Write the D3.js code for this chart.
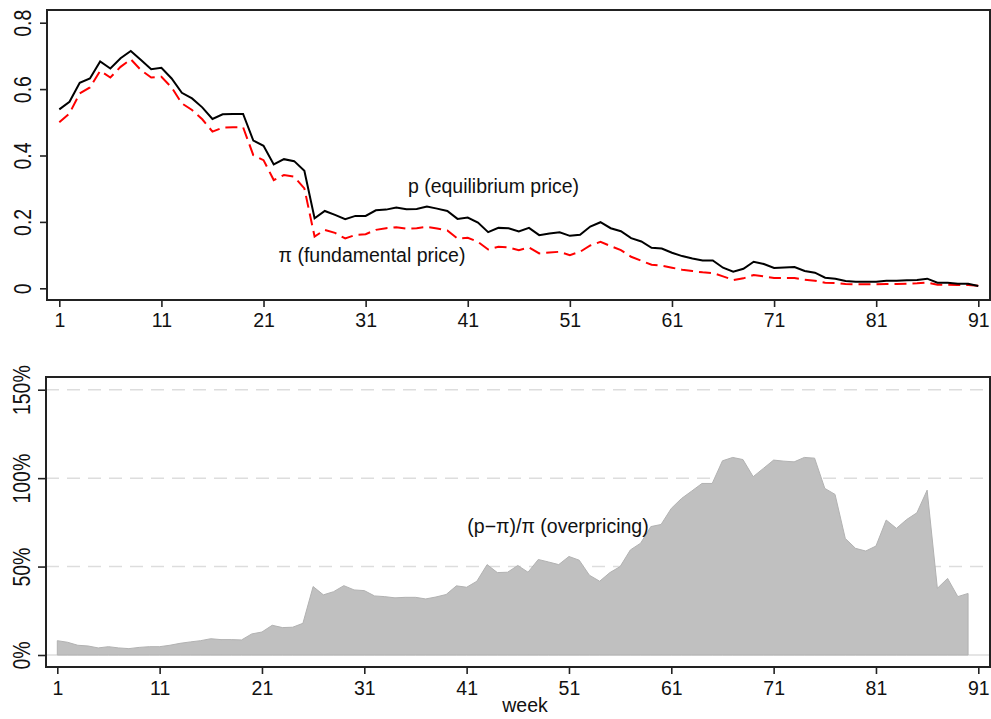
<!DOCTYPE html>
<meta charset="utf-8">
<html>
<head>
<style>
  body { margin: 0; background: #fff; }
  svg { display: block; }
  text { font-family: "Liberation Sans", Arial, Helvetica, sans-serif; fill: #111; }
  .tick line { stroke: #222; stroke-width: 1.6; }
  .tick text { font-size: 19.5px; }
</style>
</head>
<body>
<script src="https://cdn.jsdelivr.net/npm/d3@7"></script>
<script>
// week index
var weeks = d3.range(1, 92);
var weekTicks = [1, 11, 21, 31, 41, 51, 61, 71, 81, 91];

// p (equilibrium price), black line
var priceP = [0.539,0.562,0.619,0.632,0.683,0.662,0.693,0.715,0.688,0.660,
  0.664,0.632,0.589,0.572,0.545,0.510,0.524,0.525,0.525,0.445,
  0.429,0.373,0.389,0.383,0.354,0.211,0.233,0.221,0.208,0.218,
  0.218,0.235,0.237,0.243,0.238,0.239,0.246,0.240,0.233,0.209,
  0.213,0.198,0.169,0.182,0.181,0.171,0.182,0.160,0.165,0.169,
  0.158,0.161,0.186,0.199,0.181,0.172,0.151,0.141,0.122,0.120,
  0.107,0.097,0.090,0.084,0.084,0.062,0.050,0.059,0.080,0.073,
  0.061,0.063,0.064,0.052,0.047,0.032,0.029,0.022,0.020,0.020,
  0.020,0.023,0.023,0.024,0.025,0.029,0.017,0.017,0.014,0.014,0.007];

// pi (fundamental price), red dashed
var pricePi = [0.500,0.527,0.587,0.605,0.655,0.635,0.667,0.690,0.657,0.635,
  0.637,0.605,0.557,0.537,0.509,0.472,0.484,0.485,0.485,0.401,
  0.386,0.326,0.341,0.336,0.301,0.156,0.176,0.167,0.150,0.161,
  0.163,0.176,0.181,0.184,0.180,0.181,0.185,0.180,0.174,0.150,
  0.152,0.140,0.117,0.125,0.123,0.115,0.123,0.105,0.108,0.110,
  0.100,0.110,0.129,0.140,0.127,0.115,0.095,0.083,0.071,0.068,
  0.062,0.056,0.052,0.048,0.046,0.036,0.025,0.030,0.040,0.036,
  0.031,0.031,0.031,0.026,0.023,0.017,0.016,0.013,0.012,0.012,
  0.012,0.013,0.013,0.014,0.015,0.017,0.011,0.011,0.010,0.010,0.008];

// (p-pi)/pi in percent, weeks 1..90
var overpricing = [8.1,7.2,5.5,5.1,4.0,4.7,4.0,3.6,4.3,4.7,
  4.7,5.5,6.6,7.4,8.1,9.2,8.7,8.7,8.5,11.9,
  13.0,16.8,15.5,15.7,17.9,38.7,34.0,35.8,39.2,36.8,
  36.4,33.4,33.0,32.3,32.6,32.6,31.7,32.8,34.2,39.1,
  38.3,41.7,51.1,46.6,46.8,50.6,46.8,54.0,52.6,51.1,
  55.7,53.6,45.1,41.7,46.6,50.0,59.4,63.2,72.6,73.8,
  82.9,88.5,92.7,97.0,97.0,109.8,111.7,110.5,100.8,105.5,
  110.2,109.6,109.2,111.7,111.3,94.2,90.8,65.9,60.3,58.8,
  61.6,76.3,71.6,76.6,80.4,93.2,37.7,43.3,33.0,34.8];

var priceTicks = [0, 0.2, 0.4, 0.6, 0.8];
var pctTicks = [0, 50, 100, 150];

var svg = d3.select("body").append("svg")
    .attr("width", 991)
    .attr("height", 719);

// ---------- top panel ----------
var box1 = {left: 47, top: 10, right: 990, bottom: 300};

var x1 = d3.scaleLinear().domain([1, 91]).range([59.3, 978.3]);
var y1 = d3.scaleLinear().domain([0, 0.8]).range([288.3, 22.7]);

var g1 = svg.append("g");

var line = function(arr) {
  return d3.line()
    .x(function(d, i) { return x1(weeks[i]); })
    .y(function(d) { return y1(d); })(arr);
};

g1.append("path")
    .attr("d", line(pricePi))
    .attr("fill", "none")
    .attr("stroke", "#ff0000")
    .attr("stroke-width", 2)
    .attr("stroke-dasharray", "12,6");

g1.append("path")
    .attr("d", line(priceP))
    .attr("fill", "none")
    .attr("stroke", "#000")
    .attr("stroke-width", 2);

g1.append("rect")
    .attr("x", box1.left).attr("y", box1.top)
    .attr("width", box1.right - box1.left).attr("height", box1.bottom - box1.top)
    .attr("fill", "none").attr("stroke", "#222").attr("stroke-width", 2);

var xAxis1 = g1.append("g")
    .attr("transform", "translate(0," + box1.bottom + ")")
    .call(d3.axisBottom(x1).tickValues(weekTicks).tickSize(7).tickPadding(6));
xAxis1.select(".domain").remove();

// y labels are vertical and a little stretched across, as in the original
var yAxis1 = g1.append("g")
    .attr("transform", "translate(" + box1.left + ",0)")
    .call(d3.axisLeft(y1).tickValues(priceTicks).tickSize(7)
      .tickFormat(function(d) { return d === 0 ? "0" : d.toFixed(1); }));
yAxis1.select(".domain").remove();
yAxis1.selectAll("text")
    .attr("x", null).attr("dy", null)
    .attr("text-anchor", "middle")
    .attr("transform", "translate(-16,0) scale(1.2,1) rotate(-90)");

g1.append("text")
    .attr("x", 493.5).attr("y", 193)
    .attr("text-anchor", "middle")
    .style("font-size", "19.5px")
    .text("p (equilibrium price)");

g1.append("text")
    .attr("x", 372).attr("y", 262)
    .attr("text-anchor", "middle")
    .style("font-size", "19.5px")
    .text("\u03c0 (fundamental price)");

// ---------- bottom panel ----------
var box2 = {left: 46, top: 377, right: 990, bottom: 667};

var x2 = d3.scaleLinear().domain([1, 91]).range([57.3, 978.3]);
var y2 = d3.scaleLinear().domain([0, 150]).range([655, 389.7]);

var g2 = svg.append("g");

g2.selectAll(".grid")
    .data(pctTicks)
    .enter()
    .append("line")
    .attr("x1", box2.left).attr("x2", box2.right)
    .attr("y1", function(d) { return y2(d); })
    .attr("y2", function(d) { return y2(d); })
    .attr("stroke", "#dddddd")
    .attr("stroke-width", 1.5)
    .attr("stroke-dasharray", function(d) { return d === 0 ? null : "13,8"; });

var area = d3.area()
    .x(function(d, i) { return x2(weeks[i]); })
    .y0(y2(0))
    .y1(function(d) { return y2(d); });

g2.append("path")
    .attr("d", area(overpricing))
    .attr("fill", "#c0c0c0")
    .attr("stroke", "#b2b2b2")
    .attr("stroke-width", 1);

g2.append("rect")
    .attr("x", box2.left).attr("y", box2.top)
    .attr("width", box2.right - box2.left).attr("height", box2.bottom - box2.top)
    .attr("fill", "none").attr("stroke", "#222").attr("stroke-width", 2);

var xAxis2 = g2.append("g")
    .attr("transform", "translate(0," + box2.bottom + ")")
    .call(d3.axisBottom(x2).tickValues(weekTicks).tickSize(7).tickPadding(7));
xAxis2.select(".domain").remove();

var yAxis2 = g2.append("g")
    .attr("transform", "translate(" + box2.left + ",0)")
    .call(d3.axisLeft(y2).tickValues(pctTicks).tickSize(8)
      .tickFormat(function(d) { return d + "%"; }));
yAxis2.select(".domain").remove();
yAxis2.selectAll("text")
    .attr("x", null).attr("dy", null)
    .attr("text-anchor", "middle")
    .attr("transform", "translate(-16,0) scale(1.2,1) rotate(-90)");

g2.append("text")
    .attr("x", 558).attr("y", 533)
    .attr("text-anchor", "middle")
    .style("font-size", "19.5px")
    .text("(p\u2212\u03c0)/\u03c0 (overpricing)");

g2.append("text")
    .attr("x", 525).attr("y", 712)
    .attr("text-anchor", "middle")
    .style("font-size", "19.5px")
    .text("week");
</script>
</body>
</html>
